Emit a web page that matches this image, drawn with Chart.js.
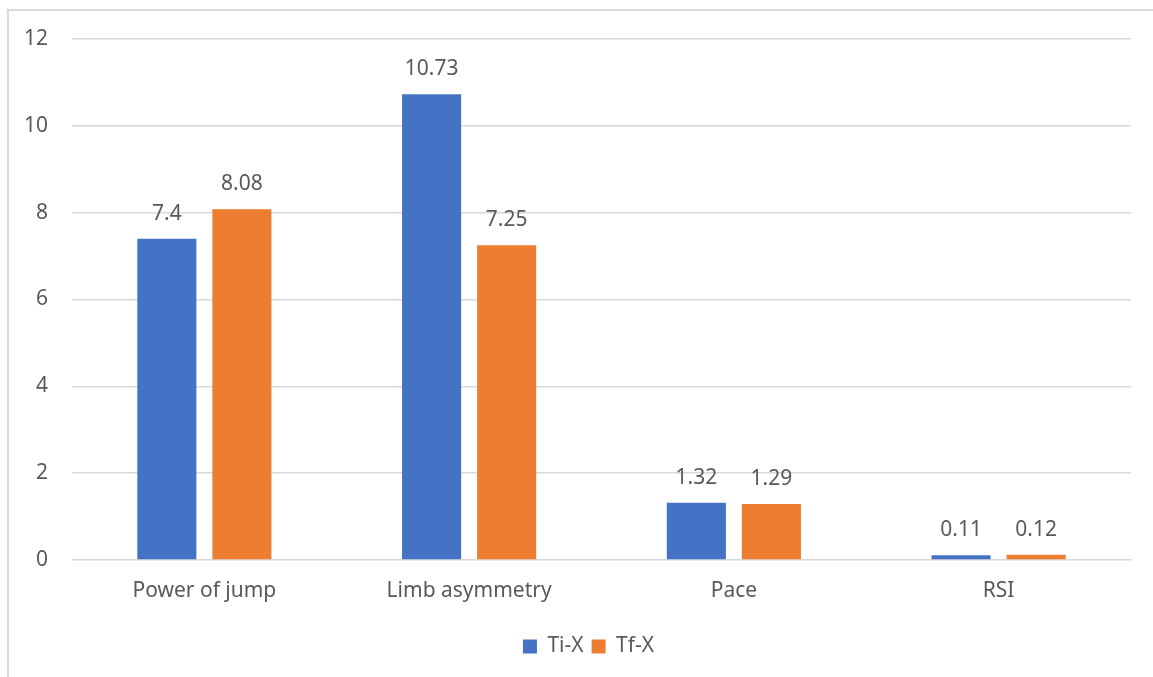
<!DOCTYPE html>
<html>
<head>
<meta charset="utf-8">
<script src="https://cdn.jsdelivr.net/npm/chart.js"></script>
<style>
  html, body { margin: 0; padding: 0; background: #fff; overflow: hidden; }
  #frame { position: absolute; left: 7px; top: 9px; width: 1200px; height: 720px; border: 2px solid #d9d9d9; }
  #wrap { position: absolute; left: 0; top: 0; width: 1153px; height: 677px; }
</style>
</head>
<body>
<div id="frame"></div>
<div id="wrap"><canvas id="chart" width="1153" height="677"></canvas></div>
<script>
// chart data
const categories = ["Power of jump", "Limb asymmetry", "Pace", "RSI"];
const tiX = [7.4, 10.73, 1.32, 0.11];
const tfX = [8.08, 7.25, 1.29, 0.12];
const yTicks = [0, 2, 4, 6, 8, 10, 12];

const textColor = "#595959";
const fontFamily = "'Noto Sans', 'Open Sans', sans-serif";
const fontSize = 21;

// draws the value above each bar, like Excel data labels
const valueLabels = {
  id: "valueLabels",
  afterUpdate(chart) {
    // legend is centred under the whole frame, not the padded area
    chart.legend.left = 46;
  },
  afterDatasetsDraw(chart) {
    const ctx = chart.ctx;
    ctx.save();
    ctx.fillStyle = textColor;
    ctx.font = fontSize + "px " + fontFamily;
    ctx.textAlign = "center";
    ctx.textBaseline = "middle";
    chart.data.datasets.forEach((ds, i) => {
      chart.getDatasetMeta(i).data.forEach((bar, j) => {
        ctx.fillText(String(ds.data[j]), bar.x, bar.y - 25);
      });
    });
    ctx.restore();
  }
};

new Chart(document.getElementById("chart"), {
  type: "bar",
  data: {
    labels: categories,
    datasets: [
      { label: "Ti-X", data: tiX, backgroundColor: "#4472C4" },
      { label: "Tf-X", data: tfX, backgroundColor: "#ED7D31" }
    ]
  },
  options: {
    responsive: false,
    animation: false,
    categoryPercentage: 0.567,
    barPercentage: 0.787,
    layout: { padding: { top: 39, right: 22, left: 0, bottom: 10 } },
    scales: {
      x: {
        grid: { display: false },
        border: { display: false },
        ticks: { color: textColor, font: { family: fontFamily, size: fontSize }, padding: 10 },
        afterFit(scale) { scale.height = 68; }
      },
      y: {
        min: 0,
        max: 12,
        afterBuildTicks(scale) { scale.ticks = yTicks.map(v => ({ value: v })); },
        grid: { color: "#d9d9d9", lineWidth: 1.5, drawTicks: false },
        border: { display: false },
        ticks: { color: textColor, font: { family: fontFamily, size: fontSize }, padding: 24 },
        afterFit(scale) { scale.width = 72; }
      }
    },
    plugins: {
      tooltip: { enabled: false },
      legend: {
        position: "bottom",
        labels: {
          color: textColor,
          font: { family: fontFamily, size: fontSize },
          boxWidth: 14,
          boxHeight: 14,
          padding: 8
        }
      }
    }
  },
  plugins: [valueLabels]
});
</script>
</body>
</html>
